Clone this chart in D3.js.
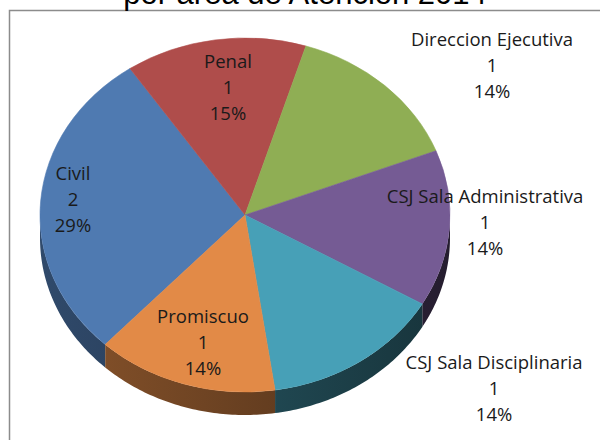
<!DOCTYPE html>
<html lang="es">
<head>
  <meta charset="UTF-8">
  <title>Pie 3D - área de Atención 2014</title>
  <script src="https://d3js.org/d3.v7.min.js"></script>
  <style>
    body {
      margin: 0;
      width: 600px;
      height: 440px;
      overflow: hidden;
      background: #fff;
    }
    .title {
      font-family: "Liberation Sans", Arial, sans-serif;
      font-size: 31px;
    }
    .lbl {
      font-family: "Open Sans", sans-serif;
      font-size: 18.5px;
      fill: #1a1a1a;
    }
  </style>
</head>
<body>
  <div id="chart"></div>

  <script>
    // Data
    const categories = ['Civil', 'Penal', 'Direccion Ejecutiva', 'CSJ Sala Administrativa', 'CSJ Sala Disciplinaria', 'Promiscuo'];
    const values = [2, 1, 1, 1, 1, 1];
    const pctLabels = ['29%', '15%', '14%', '14%', '14%', '14%'];
    const colors = ['#4F7AB1', '#AF4D4B', '#8FAE54', '#755B94', '#47A0B7', '#E28A47'];
    // label centre (middle line), in units of the pie's radii from its centre
    const labelPos = [[-0.839, -0.085], [-0.083, -0.718], [1.205, -0.847], [1.171, 0.04], [1.215, 0.983], [-0.205, 0.718]];

    const width = 600;
    const height = 440;
    const cx = 245, cy = 215;       // centre of the top ellipse
    const rx = 205, ry = 177;       // radii of the top ellipse
    const depth = 23;               // thickness of the pie
    const startAngle = 223 * Math.PI / 180;

    const svg = d3.select('#chart')
      .append('svg')
      .attr('width', width)
      .attr('height', height);

    // frame
    svg.append('rect')
      .attr('x', 9.5)
      .attr('y', 10.5)
      .attr('width', 700)
      .attr('height', 500)
      .attr('fill', 'none')
      .attr('stroke', '#8c8c8c')
      .attr('stroke-width', 1.5);

    // title (cut at the top like the original)
    svg.append('text')
      .attr('class', 'title')
      .attr('x', 305)
      .attr('y', 4)
      .attr('text-anchor', 'middle')
      .text('por área de Atención 2014');

    const pie = d3.pie()
      .sort(null)
      .value(d => d)
      .startAngle(startAngle)
      .endAngle(startAngle + 2 * Math.PI);

    const slices = pie(values);

    const pt = (a, off) => [cx + rx * Math.sin(a), cy - ry * Math.cos(a) + (off || 0)];

    // gradients for the side walls
    const defs = svg.append('defs');
    colors.forEach((c, i) => {
      const g = defs.append('linearGradient')
        .attr('id', 'side' + i)
        .attr('gradientUnits', 'userSpaceOnUse')
        .attr('x1', cx - rx).attr('x2', cx + rx)
        .attr('y1', 0).attr('y2', 0);
      g.append('stop').attr('offset', '0%').attr('stop-color', d3.color(c).darker(1.4));
      g.append('stop').attr('offset', '100%').attr('stop-color', d3.color(c).darker(3.2));
    });

    // side walls: only the front half (90°..270°) is visible
    const line = d3.line();
    const front = [[Math.PI / 2, 1.5 * Math.PI], [2.5 * Math.PI, 3.5 * Math.PI]];
    const sides = svg.append('g');
    slices.forEach((s, i) => {
      front.forEach(([f0, f1]) => {
        const a0 = Math.max(s.startAngle, f0);
        const a1 = Math.min(s.endAngle, f1);
        if (a1 <= a0) return;
        const n = 60;
        const angs = d3.range(n + 1).map(k => a0 + (a1 - a0) * k / n);
        const pts = angs.map(a => pt(a)).concat(angs.slice().reverse().map(a => pt(a, depth)));
        sides.append('path')
          .attr('d', line(pts) + 'Z')
          .attr('fill', `url(#side${i})`);
      });
    });

    // top surface
    const R = 100;
    const arc = d3.arc().innerRadius(0).outerRadius(R);
    svg.append('g')
      .attr('transform', `translate(${cx},${cy}) scale(${rx / R},${ry / R})`)
      .selectAll('path')
      .data(slices)
      .join('path')
      .attr('d', arc)
      .attr('fill', (d, i) => colors[i])
      .attr('stroke', (d, i) => colors[i])
      .attr('stroke-width', 0.3);

    // data labels
    const lbl = svg.append('g')
      .selectAll('text')
      .data(categories)
      .join('text')
      .attr('class', 'lbl')
      .attr('text-anchor', 'middle')
      .attr('transform', (d, i) => `translate(${cx + labelPos[i][0] * rx},${cy + labelPos[i][1] * ry})`);

    lbl.append('tspan').attr('x', 0).attr('y', -26).attr('dy', '0.35em').text(d => d);
    lbl.append('tspan').attr('x', 0).attr('y', 0).attr('dy', '0.35em').text((d, i) => values[i]);
    lbl.append('tspan').attr('x', 0).attr('y', 26).attr('dy', '0.35em').text((d, i) => pctLabels[i]);
  </script>
</body>
</html>
